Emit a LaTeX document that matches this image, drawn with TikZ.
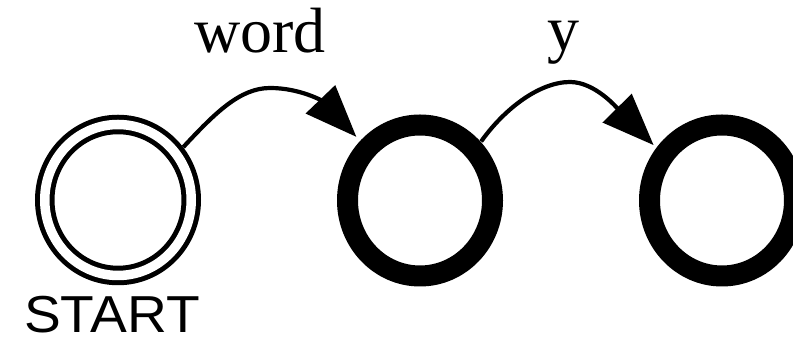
\documentclass[tikz,border=0pt]{standalone}
\usepackage{fontspec}
\setmainfont{Liberation Serif}
\newfontfamily\startfont{Liberation Sans}
\usetikzlibrary{arrows.meta,calc,shapes.geometric}
\tikzset{
  startstate/.style={ellipse, draw=black, double=white, line width=5pt, double distance=9.5pt, inner sep=0pt, minimum width=146.5pt, minimum height=151pt},
  thickstate/.style={ellipse, draw=black, line width=21pt, inner sep=0pt, minimum width=145pt, minimum height=151pt},
  trans/.style={line width=4.2pt, -{Triangle[length=52pt,width=40pt]}},
  lbl/.style={font=\fontsize{64}{70}\selectfont, anchor=base, inner sep=0pt},
}
\begin{document}
\begin{tikzpicture}[x=1pt,y=1pt]
\useasboundingbox (0,0) rectangle (793,363);
\node[startstate] (s0) at (118,163) {};
\node[thickstate] (s1) at (420,162.5) {};
\node[thickstate] (s2) at (722,162.5) {};
\node[font=\startfont\fontsize{52}{58}\selectfont, anchor=base, inner sep=0pt, xscale=1.06, transform shape] (st) at (112,30) {START};
\node[lbl] (w) at (260,310) {word};
\node[lbl] (y) at (563,312) {y};
\draw[trans] ($(s0)+(39:84)$) .. controls (215,250) and (240,275) .. (270,275)
  .. controls (300,275) and (322,262) .. ($(s1)+(135:90)$);
\draw[trans] ($(s1)+(44:85)$) .. controls (505,255) and (540,281) .. (570,281)
  .. controls (595,281) and (617,255) .. ($(s2)+(141:88)$);
\end{tikzpicture}
\end{document}
